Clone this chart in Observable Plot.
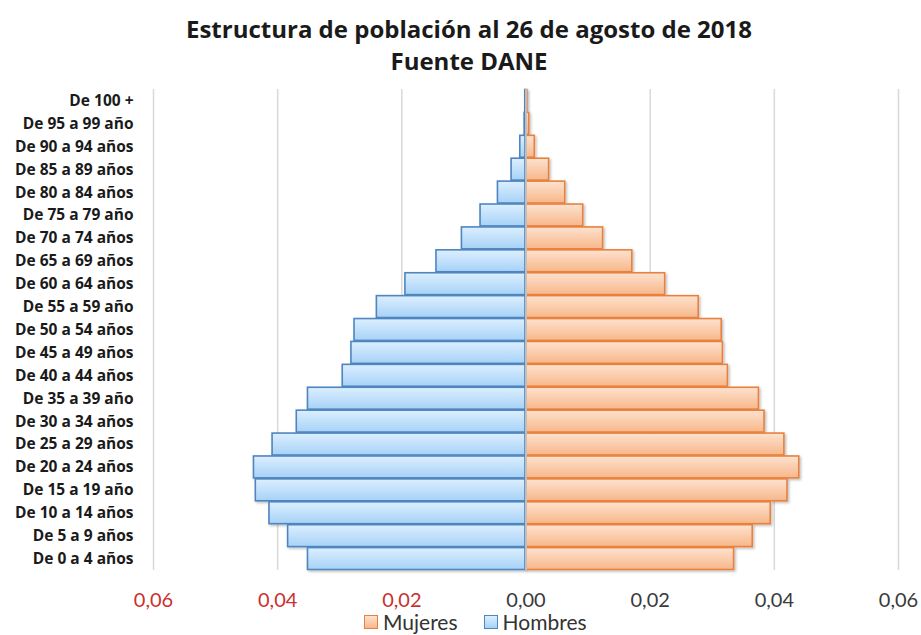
<!DOCTYPE html>
<html>
<head>
<meta charset="utf-8">
<script src="https://cdn.jsdelivr.net/npm/d3@7"></script>
<script src="https://cdn.jsdelivr.net/npm/@observablehq/plot@0.6"></script>
<style>
  html, body { margin: 0; padding: 0; background: #fff; }
  body { width: 921px; height: 635px; position: relative; overflow: hidden; font-family: Lato, "Open Sans", sans-serif; }
  #title { position: absolute; left: 0; width: 938px; top: 13px; text-align: center; font-family: "Open Sans", sans-serif; font-weight: bold; font-size: 24px; line-height: 32px; color: #1a1a1a; }
  #chart { position: absolute; left: 0; top: 80px; }
  #legend { position: absolute; top: 609px; left: 364px; display: flex; align-items: center; font-size: 21px; color: #333; }
  .sw { width: 14px; height: 14px; box-sizing: border-box; display: inline-block; margin-right: 5px; }
  .item { display: flex; align-items: center; margin-right: 26px; }
</style>
</head>
<body>
<div id="title">Estructura de población al 26 de agosto de 2018<br>Fuente DANE</div>
<div id="chart"></div>
<div id="legend"></div>
<script>
// Age groups, top to bottom
const ageGroups = [
  "De 100 +", "De 95 a 99 año", "De 90 a 94 años", "De 85 a 89 años", "De 80 a 84 años",
  "De 75 a 79 año", "De 70 a 74 años", "De 65 a 69 años", "De 60 a 64 años", "De 55 a 59 año",
  "De 50 a 54 años", "De 45 a 49 años", "De 40 a 44 años", "De 35 a 39 año", "De 30 a 34 años",
  "De 25 a 29 años", "De 20 a 24 años", "De 15 a 19 año", "De 10 a 14 años", "De 5 a 9 años",
  "De 0 a 4 años"
];
const hombres = [
  0.0002, 0.0003, 0.0010, 0.0024, 0.0046,
  0.0074, 0.0104, 0.0145, 0.0195, 0.0241,
  0.0277, 0.0282, 0.0296, 0.0352, 0.0370,
  0.0409, 0.0439, 0.0436, 0.0414, 0.0384,
  0.0352
];
const mujeres = [
  0.0003, 0.0006, 0.0015, 0.0038, 0.0064,
  0.0093, 0.0125, 0.0172, 0.0225, 0.0279,
  0.0316, 0.0318, 0.0326, 0.0376, 0.0385,
  0.0417, 0.0441, 0.0422, 0.0395, 0.0366,
  0.0336
];
const xTicks = [-0.06, -0.04, -0.02, 0, 0.02, 0.04, 0.06];
const xTickLabels = ["0,06", "0,04", "0,02", "0,00", "0,02", "0,04", "0,06"];
const seriesNames = ["Mujeres", "Hombres"];

const colors = {
  Mujeres: { stroke: "#e8813f", top: "#fde2cf", bottom: "#f8b78a" },
  Hombres: { stroke: "#4f86bf", top: "#dcefff", bottom: "#a7d2f7" }
};

const menData = ageGroups.map((g, i) => ({ group: g, value: hombres[i] }));
const womenData = ageGroups.map((g, i) => ({ group: g, value: mujeres[i] }));
const tickData = xTicks.map((v, i) => ({ v, label: xTickLabels[i] }));

const plot = Plot.plot({
  width: 921,
  height: 532,
  marginLeft: 153,
  marginRight: 23,
  marginTop: 9,
  marginBottom: 42,
  style: { fontFamily: "Lato, 'Open Sans', sans-serif", background: "transparent" },
  x: { domain: [-0.06, 0.06], axis: null },
  y: { domain: ageGroups, padding: 0, round: false, axis: null },
  color: { type: "identity" },
  marks: [
    Plot.ruleX(xTicks.filter(d => d !== 0), { stroke: "#d9d9d9", strokeWidth: 1.5 }),
    Plot.barX(menData, { y: "group", x1: 0, x2: d => -d.value, fill: "url(#gradH)", stroke: colors.Hombres.stroke, strokeWidth: 1.6, inset: 0.5 }),
    Plot.barX(womenData, { y: "group", x1: 0, x2: "value", fill: "url(#gradM)", stroke: colors.Mujeres.stroke, strokeWidth: 1.6, inset: 0.5 }),
    Plot.ruleX([0], { stroke: "#b9cfe0", strokeWidth: 1.5 }),
    Plot.axisY({ label: null, tickSize: 0, tickPadding: 20, fontSize: 15.5, fontFamily: "'Open Sans', sans-serif", fontWeight: "bold", fill: "#1a1a1a", textAnchor: "end" }),
    Plot.text(tickData, { x: "v", text: "label", frameAnchor: "bottom", dy: 36, fontSize: 20, fill: d => d.v < 0 ? "#c8322f" : "#3a3a3a" })
  ]
});

// gradients and shadow
const svg = d3.select(plot);
const defs = svg.insert("defs", ":first-child");
function grad(id, c) {
  const g = defs.append("linearGradient").attr("id", id).attr("x1", 0).attr("y1", 0).attr("x2", 0).attr("y2", 1);
  g.append("stop").attr("offset", "0%").attr("stop-color", c.top);
  g.append("stop").attr("offset", "100%").attr("stop-color", c.bottom);
}
grad("gradH", colors.Hombres);
grad("gradM", colors.Mujeres);
const f = defs.append("filter").attr("id", "shadow").attr("x", "-5%").attr("y", "-20%").attr("width", "115%").attr("height", "160%");
f.append("feDropShadow").attr("dx", 1.5).attr("dy", 1.5).attr("stdDeviation", 1).attr("flood-color", "#000").attr("flood-opacity", 0.25);
svg.selectAll("g[aria-label='bar']").attr("filter", "url(#shadow)");

document.getElementById("chart").appendChild(plot);

// legend
const legend = d3.select("#legend");
seriesNames.forEach(name => {
  const it = legend.append("div").attr("class", "item");
  it.append("span").attr("class", "sw")
    .style("border", `1.5px solid ${colors[name].stroke}`)
    .style("background", `linear-gradient(${colors[name].top}, ${colors[name].bottom})`);
  it.append("span").text(name);
});
</script>
</body>
</html>
